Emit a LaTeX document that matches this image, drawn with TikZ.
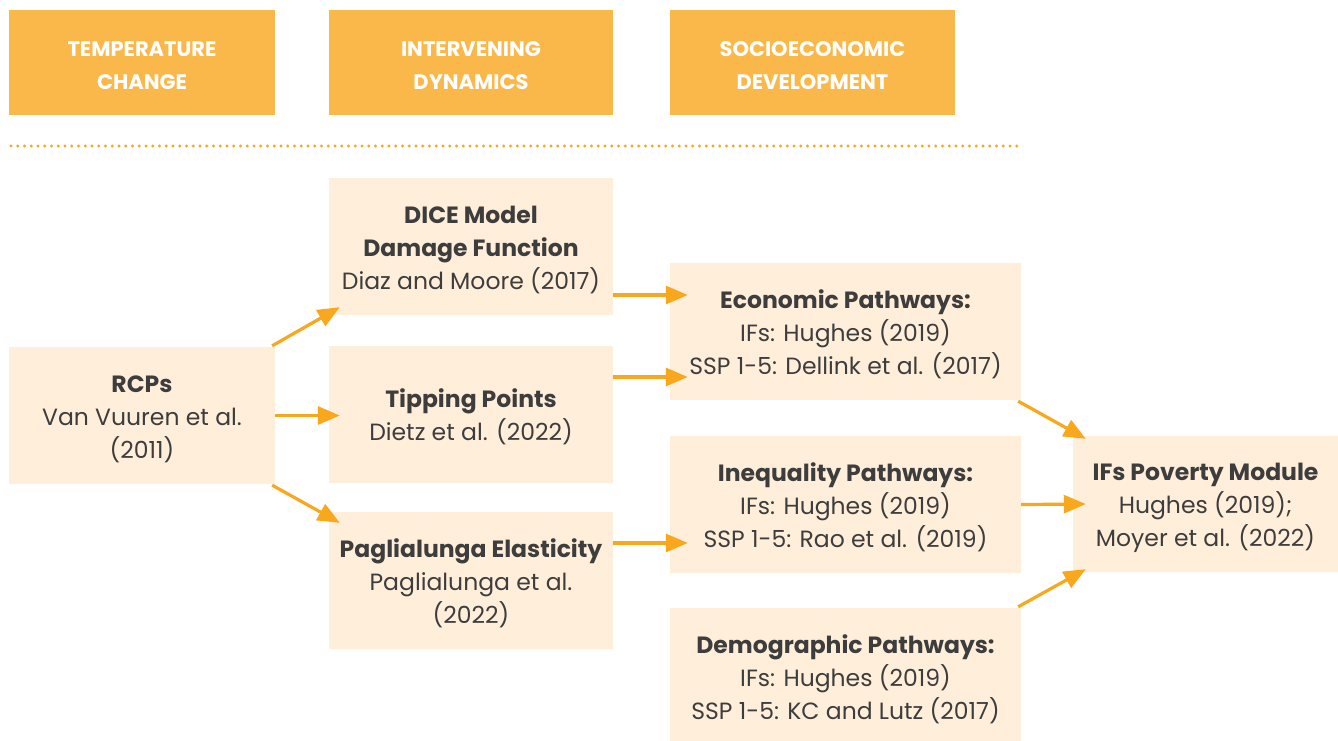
\documentclass[tikz,border=0pt]{standalone}
\usepackage{fontspec}
\setmainfont{Poppins}
\usetikzlibrary{arrows.meta,calc}
\definecolor{hdr}{HTML}{FBB84A}
\definecolor{lite}{HTML}{FFEFDA}
\definecolor{txt}{HTML}{3D3D3D}
\definecolor{arr}{HTML}{F9A71C}
\newcommand{\mylines}[2][-3pt]{\raisebox{#1}[\height][\depth]{\begin{tabular}{@{}c@{}}#2\end{tabular}}}
\tikzset{
  hdrbox/.style={fill=hdr, text=white, inner sep=0pt, align=center,
    minimum height=105pt, font=\fontsize{21}{33}\selectfont\bfseries},
  litebox/.style={fill=lite, text=txt, inner sep=0pt, align=center,
    minimum height=137pt, font=\fontsize{23.5}{33}\selectfont},
  conn/.style={draw=arr, line width=3.2pt, -{Triangle[length=22pt,width=18pt]}},
}
\begin{document}
\begin{tikzpicture}[x=1pt,y=-1pt]
\useasboundingbox (0,0) rectangle (1338,740);
\clip (0,0) rectangle (1338,740);
% headers
\node[hdrbox, minimum width=266pt] (h1) at (142,62.5) {\mylines[-4pt]{TEMPERATURE\\CHANGE}};
\node[hdrbox, minimum width=284pt] (h2) at (471,62.5) {\mylines[-4pt]{INTERVENING\\DYNAMICS}};
\node[hdrbox, minimum width=285pt] (h3) at (812.5,62.5) {\mylines[-4pt]{SOCIOECONOMIC\\DEVELOPMENT}};
% dotted separator
\coordinate (sepL) at (11,146);
\coordinate (sepR) at (1023,146);
\draw[arr, line width=3.2pt, line cap=round, dash pattern=on 0pt off 6.75pt] (sepL) -- (sepR);
% content boxes
\node[litebox, minimum width=284pt] (dice) at (471,246.5) {\mylines{\textbf{DICE Model}\\\textbf{Damage Function}\\Diaz and Moore (2017)}};
\node[litebox, minimum width=266pt] (rcp) at (142,415.5) {\mylines{\textbf{RCPs}\\Van Vuuren et al.\\(2011)}};
\node[litebox, minimum width=284pt] (tip) at (471,414.5) {\mylines{\textbf{Tipping Points}\\Dietz et al. (2022)}};
\node[litebox, minimum width=284pt] (pagl) at (471,580.5) {\mylines{\textbf{Paglialunga Elasticity}\\Paglialunga et al.\\(2022)}};
\node[litebox, minimum width=351pt] (econ) at (845.5,331.5) {\mylines{\textbf{Economic Pathways:}\\IFs: Hughes (2019)\\SSP 1-5: Dellink et al. (2017)}};
\node[litebox, minimum width=351pt] (ineq) at (845.5,504.5) {\mylines{\textbf{Inequality Pathways:}\\IFs: Hughes (2019)\\SSP 1-5: Rao et al. (2019)}};
\node[litebox, minimum width=351pt] (demo) at (845.5,676.5) {\mylines{\textbf{Demographic Pathways:}\\IFs: Hughes (2019)\\SSP 1-5: KC and Lutz (2017)}};
\node[litebox, minimum width=265pt, minimum height=136pt] (ifs) at (1205.5,504) {\mylines{\textbf{IFs Poverty Module}\\Hughes (2019);\\Moyer et al. (2022)}};
% connectors
\draw[conn] ($(rcp.north east)+(-3,-1)$) -- ($(dice.south west)+(11,-8)$);
\draw[conn] (rcp.east) -- ($(tip.west)+(11,1)$);
\draw[conn] ($(rcp.south east)+(-3,1)$) -- ($(pagl.north west)+(11,11)$);
\draw[conn] ($(dice.east)+(0,48.5)$) -- ($(econ.west)+(18,-36.5)$);
\draw[conn] ($(tip.east)+(0,-37.5)$) -- ($(econ.west)+(18,45.5)$);
\draw[conn] ($(pagl.east)+(0,-37.5)$) -- ($(ineq.west)+(18,38.5)$);
\draw[conn] ($(econ.south east)+(-3,1)$) -- ($(ifs.north west)+(13,3)$);
\draw[conn] (ineq.east) -- ($(ifs.west)+(13,0)$);
\draw[conn] ($(demo.north east)+(-3,-1)$) -- ($(ifs.south west)+(13,-3)$);
\end{tikzpicture}
\end{document}
